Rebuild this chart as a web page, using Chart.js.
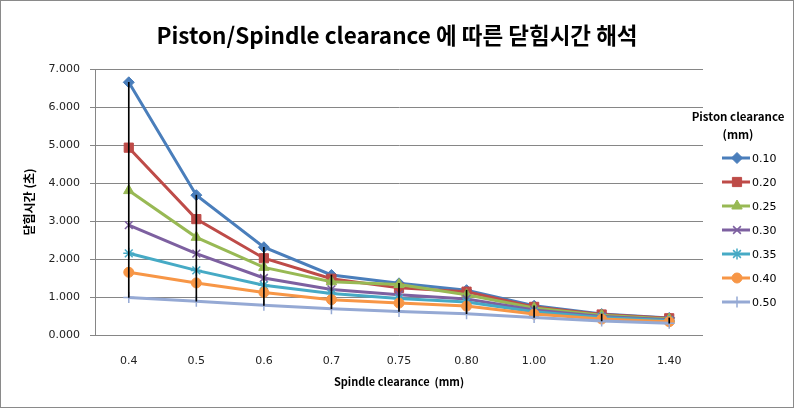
<!DOCTYPE html>
<html>
<head>
<meta charset="utf-8">
<script src="https://cdn.jsdelivr.net/npm/chart.js@4.4.0/dist/chart.umd.min.js"></script>
<style>
  html, body { margin: 0; padding: 0; background: #fff; }
  #wrap { width: 794px; height: 408px; }
</style>
</head>
<body>
<div id="wrap"><canvas id="closeChart" width="794" height="408"></canvas></div>
<script>
// Spindle clearance (mm) - x categories
const categories = ['0.4', '0.5', '0.6', '0.7', '0.75', '0.80', '1.00', '1.20', '1.40'];

// closing time per piston clearance
const pc010 = [6.65, 3.68, 2.31, 1.58, 1.36, 1.18, 0.77, 0.55, 0.45];
const pc020 = [4.93, 3.05, 2.02, 1.48, 1.24, 1.14, 0.74, 0.54, 0.44];
const pc025 = [3.80, 2.57, 1.78, 1.40, 1.33, 1.06, 0.71, 0.52, 0.42];
const pc030 = [2.89, 2.14, 1.50, 1.20, 1.06, 0.95, 0.66, 0.49, 0.40];
const pc035 = [2.15, 1.70, 1.31, 1.09, 0.96, 0.87, 0.61, 0.46, 0.38];
const pc040 = [1.65, 1.37, 1.12, 0.93, 0.84, 0.76, 0.55, 0.42, 0.35];
const pc050 = [0.99, 0.89, 0.78, 0.69, 0.62, 0.56, 0.46, 0.37, 0.31];

const seriesLabels = ['0.10', '0.20', '0.25', '0.30', '0.35', '0.40', '0.50'];
const seriesValues = [pc010, pc020, pc025, pc030, pc035, pc040, pc050];

// y axis tick values
const yTicks = [0, 1, 2, 3, 4, 5, 6, 7];

const colors = ['#4A7EBB', '#BE4B48', '#98B954', '#7D60A0', '#46AAC5', '#F79646', '#95A9D4'];
const markers = ['rectRot', 'rect', 'triangle', 'crossRot', 'star', 'circle', 'cross'];
const markerSize = [5.5, 6.5, 6, 5.5, 5.5, 5, 5.5];

// high-low lines: min..max at each category
const highLow = categories.map((c, i) => {
    const vals = seriesValues.map(s => s[i]);
    return [Math.min(...vals), Math.max(...vals)];
});

const lineSets = seriesValues.map((vals, i) => ({
    type: 'line',
    label: seriesLabels[i],
    data: vals,
    borderColor: colors[i],
    backgroundColor: colors[i],
    borderWidth: 3,
    pointStyle: markers[i],
    pointRadius: markerSize[i],
    pointBorderColor: colors[i],
    pointBackgroundColor: colors[i],
    pointBorderWidth: (markers[i] === 'crossRot' || markers[i] === 'star' || markers[i] === 'cross') ? 1.5 : 1,
    tension: 0,
    order: 10 - i
}));

// white background, outer frame and centred title
const frame = {
    id: 'frame',
    beforeDraw(chart) {
        const c = chart.ctx;
        c.save();
        c.fillStyle = '#fff';
        c.fillRect(0, 0, chart.width, chart.height);
        c.strokeStyle = '#8a8a8a';
        c.lineWidth = 1;
        c.strokeRect(0.5, 0.5, chart.width - 1, chart.height - 1);
        c.fillStyle = '#000';
        c.textAlign = 'center';
        c.textBaseline = 'middle';
        c.font = 'bold 22.5px "Noto Sans CJK KR", sans-serif';
        c.fillText('Piston/Spindle clearance 에 따른 닫힘시간 해석', chart.width / 2, 35);
        c.restore();
    }
};

// Excel style legend: line with marker
const sideLegend = {
    id: 'sideLegend',
    afterDraw(chart) {
        const c = chart.ctx;
        c.save();
        c.fillStyle = '#000';
        c.textAlign = 'center';
        c.textBaseline = 'middle';
        c.font = 'bold 11.5px "Noto Sans CJK KR", "Noto Sans", sans-serif';
        c.fillText('Piston clearance', 738, 117);
        c.fillText('(mm)', 738, 135);
        lineSets.forEach((ds, i) => {
            const y = 158 + 24 * i;
            c.strokeStyle = ds.borderColor;
            c.lineWidth = 3;
            c.beginPath();
            c.moveTo(722, y);
            c.lineTo(750, y);
            c.stroke();
            c.fillStyle = ds.pointBackgroundColor;
            c.strokeStyle = ds.pointBorderColor;
            c.lineWidth = ds.pointBorderWidth;
            if (Chart.helpers && Chart.helpers.drawPoint) {
                Chart.helpers.drawPoint(c, {pointStyle: ds.pointStyle, radius: ds.pointRadius, rotation: 0, borderWidth: ds.pointBorderWidth}, 737, y);
            }
            c.fillStyle = '#000';
            c.textAlign = 'left';
            c.font = '11px "DejaVu Sans", sans-serif';
            c.fillText(ds.label, 752, y + 1);
        });
        c.restore();
    }
};

const ctx = document.getElementById('closeChart').getContext('2d');

const chart = new Chart(ctx, {
    data: {
        labels: categories,
        datasets: [{
            type: 'bar',
            label: 'high-low',
            data: highLow,
            backgroundColor: '#000',
            barThickness: 1,
            order: 0
        }].concat(lineSets)
    },
    options: {
        responsive: false,
        animation: false,
        layout: { padding: { left: 18, right: 91, top: 69, bottom: 0 } },
        plugins: {
            legend: { display: false },
            tooltip: { enabled: false },
            title: { display: false }
        },
        scales: {
            x: {
                offset: true,
                grid: { display: false },
                border: { display: false },
                ticks: {
                    color: '#222',
                    padding: 12,
                    maxRotation: 0,
                    font: { family: '"DejaVu Sans", sans-serif', size: 11 }
                },
                title: {
                    display: true,
                    text: 'Spindle clearance  (mm)',
                    color: '#000',
                    font: { family: '"Noto Sans CJK KR", sans-serif', size: 11, weight: 'bold', lineHeight: 1.2 },
                    padding: { top: 0, bottom: 20 }
                },
                afterFit(scale) { scale.height = 73; }
            },
            y: {
                min: 0,
                max: 7,
                afterBuildTicks(scale) { scale.ticks = yTicks.map(v => ({ value: v })); },
                grid: { color: '#868686', lineWidth: 1, tickLength: 5, drawTicks: true },
                border: { display: true, color: '#868686' },
                ticks: {
                    color: '#222',
                    padding: 10,
                    font: { family: '"DejaVu Sans", sans-serif', size: 11 },
                    callback: v => Number(v).toFixed(3)
                },
                title: {
                    display: true,
                    text: '닫힘시간 (초)',
                    color: '#000',
                    font: { family: '"Noto Sans CJK KR", sans-serif', size: 12, weight: 'bold', lineHeight: 1.2 },
                    padding: { top: 4, bottom: 4 }
                },
                afterFit(scale) { scale.width = 77; }
            }
        }
    },
    plugins: [frame, sideLegend]
});
</script>
</body>
</html>
